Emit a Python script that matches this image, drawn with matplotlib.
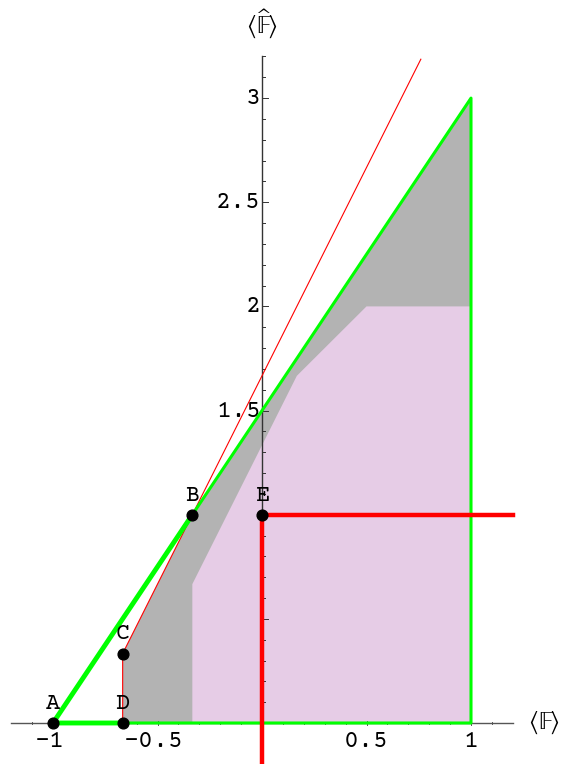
import numpy as np
import matplotlib.pyplot as plt

# key points of the diagram
pt_names = ['A', 'B', 'C', 'D', 'E']
pt_x = [-1.0, -1/3, -2/3, -2/3, 0.0]
pt_y = [0.0, 1.0, 1/3, 0.0, 1.0]

# gray region (outer) and pink region (inner)
gray_x = [-2/3, -2/3, -1/3, 1.0, 1.0]
gray_y = [0.0, 1/3, 1.0, 3.0, 0.0]
pink_x = [-1/3, -1/3, 1/6, 0.5, 1.0, 1.0]
pink_y = [0.0, 2/3, 5/3, 2.0, 2.0, 0.0]

# boundary lines
green_thick_x = [-2/3, -1.0, -1/3]
green_thick_y = [0.0, 0.0, 1.0]
green_thin_x = [-1/3, 1.0, 1.0, -2/3]
green_thin_y = [1.0, 3.0, 0.0, 0.0]
red_thin_x = [-2/3, -2/3, 0.76]
red_thin_y = [0.0, 1/3, 3.1867]
red_thick_x = [0.0, 0.0, 1.2]
red_thick_y = [-0.2, 1.0, 1.0]

xticks = [-1, -0.5, 0.5, 1]
xtick_labels = ['-1', '-0.5', '0.5', '1']
yticks = [1.5, 2, 2.5, 3]
ytick_labels = ['1.5', '2', '2.5', '3']

plt.rcParams['mathtext.fontset'] = 'stix'
mono = ['Courier Prime', 'Cutive Mono', 'Liberation Mono', 'DejaVu Sans Mono']

fig = plt.figure(figsize=(5.63, 7.64), dpi=100)
ax = fig.add_axes([0, 0, 1, 1])
ax.set_xlim(-262/209, 301/209)
ax.set_ylim(-41/208.3, 723/208.3)
ax.axis('off')

ax.fill(gray_x, gray_y, color='#b3b3b3', lw=0, zorder=1)
ax.fill(pink_x, pink_y, color='#e6cce6', lw=0, zorder=2)

# axes drawn by hand
ax.plot([-1.2, 1.2], [0, 0], color='#555555', lw=1, zorder=3)
ax.plot([0, 0], [0, 3.2], color='#333333', lw=1, zorder=3)
for t in np.arange(-1.1, 1.15, 0.1):
    big = abs(round(t * 2) - t * 2) < 1e-6
    h = 0.02 if big else 0.01
    ax.plot([t, t], [-h/2, h/2], color='#555555', lw=0.7, zorder=3)
for t in np.arange(0.1, 3.25, 0.1):
    big = abs(round(t * 2) - t * 2) < 1e-6
    w = 0.03 if big else 0.015
    ax.plot([0, w], [t, t], color='#333333', lw=0.7, zorder=3)

ax.plot(red_thin_x, red_thin_y, color='red', lw=0.8, zorder=4)
ax.plot(green_thin_x, green_thin_y, color='#00ff00', lw=2.2, zorder=5,
        solid_joinstyle='round')
ax.plot(green_thick_x, green_thick_y, color='#00ff00', lw=3.5, zorder=5)
ax.plot(red_thick_x, red_thick_y, color='red', lw=3.2, zorder=6)

ax.scatter(pt_x, pt_y, s=60, color='black', zorder=7)
for n, x, y in zip(pt_names, pt_x, pt_y):
    ax.text(x, y + 0.068, n, family=mono, fontsize=17, ha='center',
            va='baseline', zorder=8)

for t, s in zip(xticks, xtick_labels):
    ax.text(t - (0.015 if s.startswith('-') else 0), -0.035, s, family=mono,
            fontsize=18, ha='center', va='top')
for t, s in zip(yticks, ytick_labels):
    ax.text(-0.005, t, s, family=mono, fontsize=18, ha='right', va='center')

ax.text(1.35, 0.0, r'$\langle\mathrm{𝔽}\rangle$', fontsize=18,
        ha='center', va='center')
ax.text(0.0, 3.36, r'$\langle\widehat{\mathrm{𝔽}}\rangle$', fontsize=18,
        ha='center', va='center')

fig.savefig('out.png', dpi=100)
